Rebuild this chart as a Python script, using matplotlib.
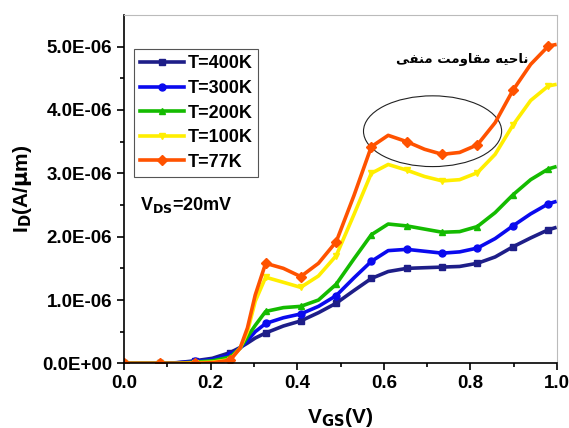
import matplotlib
matplotlib.use("Agg")
import matplotlib.pyplot as plt
from matplotlib.patches import Ellipse

plt.rcParams['font.family'] = ['Liberation Sans', 'DejaVu Sans']
plt.rcParams['font.weight'] = 'bold'

# gate voltage (V), same grid for every temperature
vgs = [0.0, 0.041, 0.082, 0.122, 0.163, 0.204, 0.245, 0.268, 0.285, 0.303,
       0.327, 0.368, 0.408, 0.449, 0.49, 0.531, 0.571, 0.61, 0.653, 0.694,
       0.735, 0.775, 0.816, 0.857, 0.898, 0.939, 0.98, 0.995]
# points that carry a marker
mark_idx = [0, 2, 4, 6, 10, 12, 14, 16, 18, 20, 22, 24, 26]

# drain current, units of 1e-6 A/um
id_400 = [0.0, 0.0, 0.0, 0.01, 0.04, 0.08, 0.17, 0.25, 0.32, 0.40,
          0.48, 0.59, 0.67, 0.80, 0.95, 1.15, 1.34, 1.45, 1.50, 1.51,
          1.52, 1.53, 1.58, 1.68, 1.84, 1.98, 2.11, 2.14]
id_300 = [0.0, 0.0, 0.0, 0.01, 0.03, 0.06, 0.13, 0.24, 0.36, 0.50,
          0.63, 0.72, 0.78, 0.90, 1.07, 1.35, 1.61, 1.78, 1.80, 1.77,
          1.74, 1.76, 1.82, 1.97, 2.17, 2.36, 2.52, 2.55]
id_200 = [0.0, 0.0, 0.0, 0.0, 0.02, 0.04, 0.10, 0.24, 0.42, 0.60,
          0.82, 0.88, 0.90, 1.00, 1.25, 1.65, 2.03, 2.20, 2.17, 2.12,
          2.07, 2.08, 2.16, 2.38, 2.66, 2.90, 3.07, 3.10]
id_100 = [0.0, 0.0, 0.0, 0.0, 0.01, 0.02, 0.06, 0.24, 0.50, 0.98,
          1.36, 1.28, 1.20, 1.38, 1.70, 2.35, 3.00, 3.14, 3.05, 2.95,
          2.88, 2.90, 3.01, 3.30, 3.76, 4.15, 4.38, 4.40]
id_77 = [0.0, 0.0, 0.0, 0.0, 0.0, 0.01, 0.05, 0.24, 0.56, 1.08,
         1.58, 1.50, 1.37, 1.58, 1.92, 2.65, 3.42, 3.60, 3.50, 3.38,
         3.30, 3.33, 3.45, 3.80, 4.31, 4.72, 5.01, 5.03]

labels = ['T=400K', 'T=300K', 'T=200K', 'T=100K', 'T=77K']
series = [id_400, id_300, id_200, id_100, id_77]
colors = ['#1e1e88', '#0a0aee', '#14bb00', '#ffee00', '#ff5200']
markers = ['s', 'o', '^', 'v', 'D']

fig = plt.figure(figsize=(5.69, 4.28), dpi=100)
ax = fig.add_axes([0.218, 0.151, 0.761, 0.814])

for ys, lab, c, m in zip(series, labels, colors, markers):
    ax.plot(vgs, [v * 1e-6 for v in ys], color=c, lw=2.6, marker=m,
            markersize=5, markevery=mark_idx, label=lab)

# negative resistance region
ax.add_patch(Ellipse((0.7125, 3.665e-6), 0.319, 1.117e-6, fill=False,
                     edgecolor='#222222', lw=0.8))
ax.text(0.78, 4.8e-6, 'ﻰﻔﻨﻣ ﺖﻣﻭﺎﻘﻣ ﻪﻴﺣﺎﻧ', family=['DejaVu Sans'],
        fontsize=9.5, fontweight='bold', ha='center', va='center')
ax.text(0.037, 2.5e-6, r'V$_{\mathbf{DS}}$=20mV', fontsize=13,
        fontweight='bold', va='center')

ax.set_xlim(0, 1.0)
ax.set_ylim(0, 5.5e-6)
ax.set_xticks([0.0, 0.2, 0.4, 0.6, 0.8, 1.0])
ax.set_xticks([0.1, 0.3, 0.5, 0.7, 0.9], minor=True)
ax.set_yticks([0, 1e-6, 2e-6, 3e-6, 4e-6, 5e-6])
ax.set_yticks([0.5e-6, 1.5e-6, 2.5e-6, 3.5e-6, 4.5e-6], minor=True)
ax.set_xticklabels(['0.0', '0.2', '0.4', '0.6', '0.8', '1.0'])
ax.set_yticklabels(['0.0E+00', '1.0E-06', '2.0E-06', '3.0E-06', '4.0E-06', '5.0E-06'])
ax.tick_params(which='both', direction='out', labelsize=13.5, width=1.2)
ax.tick_params(which='major', length=5)
ax.tick_params(which='minor', length=3)
ax.tick_params(top=False, right=False)
for s in ['top', 'right']:
    ax.spines[s].set_color('#bbbbbb')
    ax.spines[s].set_linewidth(0.8)
for s in ['left', 'bottom']:
    ax.spines[s].set_linewidth(1.2)

ax.set_xlabel(r'V$_{\mathbf{GS}}$(V)', fontsize=15, fontweight='bold', labelpad=10)
ax.set_ylabel(r'I$_{\mathbf{D}}$(A/$\mathbf{\mu}$m)', fontsize=15, fontweight='bold', labelpad=6)

leg = ax.legend(loc='upper left', bbox_to_anchor=(0.023, 0.902), borderaxespad=0,
                fontsize=13, handlelength=2.4, labelspacing=0.42, borderpad=0.35,
                handletextpad=0.2, fancybox=False, framealpha=1)
leg.get_frame().set_edgecolor('#555555')
leg.get_frame().set_linewidth(0.8)

fig.savefig('out.png', dpi=100)
